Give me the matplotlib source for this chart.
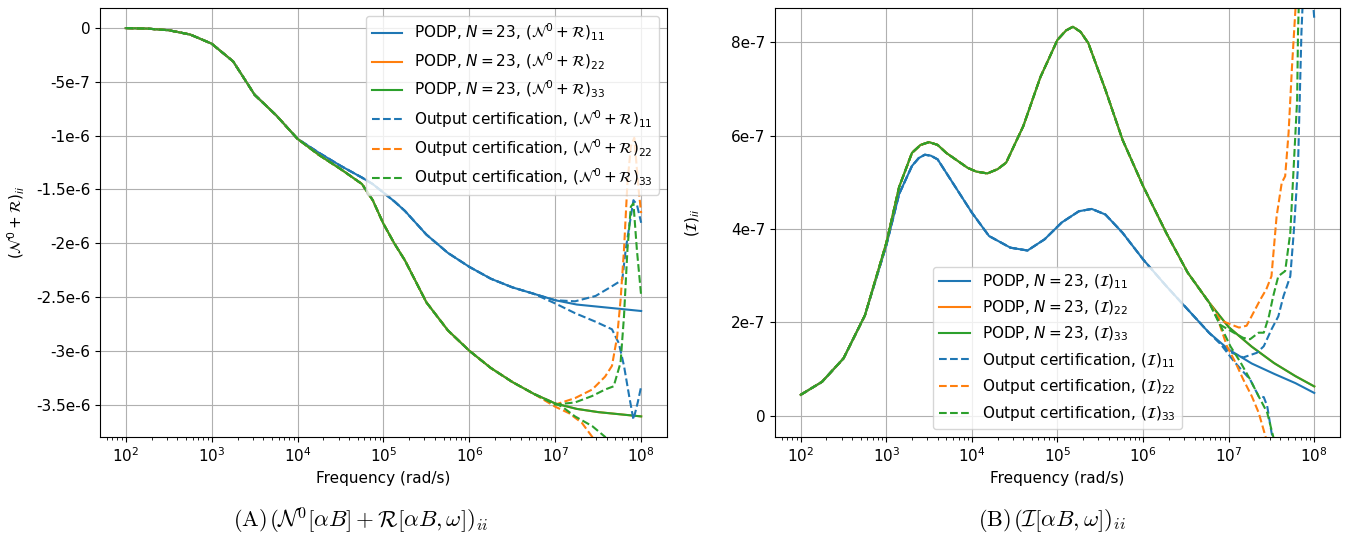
import numpy as np
import matplotlib
matplotlib.use("Agg")
import matplotlib.pyplot as plt
from matplotlib.ticker import FuncFormatter, MultipleLocator, NullFormatter

plt.rcParams["font.size"] = 11

# ---------------- data (log10 of frequency) ----------------
# (A) tensor coefficients, units of 1e-6
lgA = [2.0, 2.25, 2.5, 2.75, 3.0, 3.25, 3.5, 3.75, 4.0, 4.25, 4.5, 4.75, 4.875, 5.0,
       5.125, 5.25, 5.5, 5.75, 6.0, 6.25, 6.5, 6.75, 7.0, 7.25, 7.5, 7.75, 8.0]
A11 = [0, -0.005, -0.02, -0.06, -0.145, -0.31, -0.62, -0.81, -1.03, -1.16, -1.28, -1.39,
       -1.45, -1.53, -1.61, -1.70, -1.92, -2.09, -2.22, -2.33, -2.41, -2.47, -2.53, -2.57,
       -2.59, -2.61, -2.63]
A22 = [0, -0.005, -0.02, -0.06, -0.145, -0.31, -0.62, -0.81, -1.03, -1.18, -1.31, -1.45,
       -1.60, -1.82, -2.00, -2.16, -2.55, -2.81, -3.00, -3.16, -3.29, -3.40, -3.49, -3.54,
       -3.57, -3.59, -3.61]
A33 = A22

# output certification bounds (tails after they leave the PODP curve)
lgA11_up = [7.0, 7.23, 7.47, 7.66, 7.78, 7.82, 7.86, 7.91, 7.95, 8.0]
A11_up = [-2.53, -2.54, -2.49, -2.40, -2.34, -2.06, -1.85, -1.60, -1.64, -1.81]
lgA11_lo = [7.0, 7.23, 7.47, 7.66, 7.74, 7.80, 7.86, 7.91, 7.96, 8.0]
A11_lo = [-2.56, -2.65, -2.73, -2.80, -2.93, -3.14, -3.42, -3.64, -3.48, -3.33]
lgA22_up = [7.0, 7.23, 7.43, 7.58, 7.66, 7.72, 7.76, 7.80, 7.84, 7.88, 7.92, 7.97, 8.0]
A22_up = [-3.50, -3.44, -3.36, -3.24, -3.14, -2.87, -2.53, -2.06, -1.44, -1.10, -1.02, -1.50, -1.72]
lgA22_lo = [7.0, 7.16, 7.31, 7.43, 7.55]
A22_lo = [-3.52, -3.58, -3.67, -3.80, -3.98]
lgA33_up = [7.0, 7.23, 7.43, 7.58, 7.68, 7.76, 7.80, 7.84, 7.88, 7.91, 7.95, 8.0]
A33_up = [-3.50, -3.48, -3.42, -3.36, -3.33, -3.11, -2.68, -2.06, -1.66, -1.63, -2.06, -2.49]
lgA33_lo = [7.08, 7.23, 7.43, 7.58, 7.70]
A33_lo = [-3.52, -3.61, -3.70, -3.80, -3.98]

# (B) imaginary part, units of 1e-7
lgB11 = [2.0, 2.25, 2.5, 2.75, 3.0, 3.15, 3.3, 3.38, 3.45, 3.52, 3.6, 3.8, 4.0, 4.2, 4.45,
         4.65, 4.85, 5.05, 5.25, 5.4, 5.56, 5.76, 6.0, 6.27, 6.52, 6.77, 7.0, 7.27, 7.53,
         7.78, 8.0]
B11 = [0.45, 0.73, 1.23, 2.15, 3.65, 4.75, 5.35, 5.52, 5.59, 5.57, 5.49, 4.92, 4.35, 3.85,
       3.60, 3.54, 3.78, 4.14, 4.38, 4.43, 4.31, 3.92, 3.35, 2.78, 2.28, 1.78, 1.42, 1.12,
       0.90, 0.70, 0.49]
lgB22 = [2.0, 2.25, 2.5, 2.75, 3.0, 3.15, 3.3, 3.4, 3.5, 3.6, 3.7, 3.95, 4.05, 4.18, 4.3,
         4.4, 4.6, 4.8, 5.0, 5.1, 5.18, 5.27, 5.36, 5.56, 5.76, 6.0, 6.27, 6.52, 6.77, 7.0,
         7.27, 7.53, 7.78, 8.0]
B22 = [0.45, 0.73, 1.23, 2.15, 3.70, 4.90, 5.63, 5.80, 5.86, 5.80, 5.63, 5.31, 5.23, 5.19,
       5.28, 5.42, 6.20, 7.25, 8.05, 8.25, 8.33, 8.22, 7.98, 6.98, 5.91, 4.92, 3.92, 3.07,
       2.43, 1.90, 1.48, 1.13, 0.85, 0.63]
lgB33 = lgB22
B33 = B22

lgB11_up = [6.90, 7.0, 7.17, 7.33, 7.41, 7.50, 7.58, 7.64, 7.72, 7.76, 7.81, 7.83, 7.85,
            7.88, 7.96, 8.0]
B11_up = [1.55, 1.38, 1.25, 1.35, 1.49, 1.85, 2.13, 2.56, 2.99, 3.92, 5.34, 6.77, 8.2,
          9.5, 9.5, 8.5]
lgB11_lo = [6.90, 7.06, 7.25, 7.35, 7.41, 7.45, 7.50, 7.55]
B11_lo = [1.55, 1.17, 0.78, 0.42, 0.40, 0.21, -0.35, -0.8]
lgB22_up = [6.90, 7.02, 7.12, 7.21, 7.29, 7.37, 7.44, 7.50, 7.56, 7.62, 7.66, 7.70, 7.74,
            7.78, 7.81]
B22_up = [2.05, 1.96, 1.89, 1.93, 2.21, 2.49, 2.71, 2.99, 4.27, 4.99, 5.13, 6.06, 7.48,
          8.7, 9.5]
lgB22_lo = [6.85, 6.98, 7.08, 7.17, 7.27, 7.35, 7.43, 7.48]
B22_lo = [2.2, 1.49, 1.14, 0.78, 0.42, 0.07, -0.44, -0.8]
lgB33_up = [6.90, 7.06, 7.17, 7.25, 7.35, 7.41, 7.47, 7.52, 7.58, 7.66, 7.72, 7.76, 7.80,
            7.81, 7.83]
B33_up = [1.95, 1.78, 1.67, 1.64, 1.78, 1.78, 2.13, 2.56, 2.99, 3.10, 3.92, 5.34, 6.77,
          8.2, 9.5]
lgB33_lo = [6.90, 7.02, 7.14, 7.25, 7.35, 7.45, 7.52, 7.56]
B33_lo = [1.95, 1.49, 1.14, 0.78, 0.42, 0.07, -0.44, -0.8]

decades = [2, 3, 4, 5, 6, 7, 8]


def join(lg_s, v_s, lg_t, v_t):
    """PODP curve up to where the certification bound leaves it, then the bound."""
    keep = [i for i, l in enumerate(lg_s) if l < lg_t[0]]
    lg = [lg_s[i] for i in keep] + list(lg_t)
    v = [v_s[i] for i in keep] + list(v_t)
    return 10 ** np.array(lg), np.array(v)


def sci_fmt(v, pos):
    if abs(v) < 1e-15:
        return "0"
    s = f"{v:g}"
    return s.replace("e-0", "e-").replace("e+0", "e")


colors = ["C0", "C1", "C2"]

fig = plt.figure(figsize=(13.46, 5.38), dpi=100)
ax1 = fig.add_axes([0.0743, 0.188, 0.4212, 0.797])
ax2 = fig.add_axes([0.5758, 0.188, 0.4197, 0.797])

# ---------------- (A) ----------------
ten = r"(\mathcal{N}^0+\mathcal{R})"
solidA = [(lgA, A11), (lgA, A22), (lgA, A33)]
for i, (lg, v) in enumerate(solidA):
    ax1.plot(10 ** np.array(lg), np.array(v) * 1e-6, color=colors[i],
             label=rf"PODP, $N=23$, ${ten}_{{{i+1}{i+1}}}$")
tailsA = [(lgA11_up, A11_up, lgA11_lo, A11_lo),
          (lgA22_up, A22_up, lgA22_lo, A22_lo),
          (lgA33_up, A33_up, lgA33_lo, A33_lo)]
for i, (lu, vu, ll, vl) in enumerate(tailsA):
    f, v = join(solidA[i][0], solidA[i][1], lu, vu)
    ax1.plot(f, v * 1e-6, "--", color=colors[i],
             label=rf"Output certification, ${ten}_{{{i+1}{i+1}}}$")
    f, v = join(solidA[i][0], solidA[i][1], ll, vl)
    ax1.plot(f, v * 1e-6, "--", color=colors[i])

ax1.set_xscale("log")
ax1.set_xlim(10 ** 1.7, 10 ** 8.3)
ax1.set_ylim(-3.8e-6, 0.186e-6)
ax1.set_xticks([10.0 ** d for d in decades], [rf"$10^{{{d}}}$" for d in decades])
ax1.xaxis.set_minor_formatter(NullFormatter())
ax1.yaxis.set_major_locator(MultipleLocator(5e-7))
ax1.yaxis.set_major_formatter(FuncFormatter(sci_fmt))
ax1.set_xlabel("Frequency (rad/s)")
ax1.set_ylabel(rf"${ten}_{{ii}}$")
ax1.yaxis.set_label_coords(-0.129, 0.5)
ax1.grid(True)
ax1.legend(loc="upper right")

# ---------------- (B) ----------------
solidB = [(lgB11, B11), (lgB22, B22), (lgB33, B33)]
for i, (lg, v) in enumerate(solidB):
    ax2.plot(10 ** np.array(lg), np.array(v) * 1e-7, color=colors[i],
             label=rf"PODP, $N=23$, $(\mathcal{{I}})_{{{i+1}{i+1}}}$")
tailsB = [(lgB11_up, B11_up, lgB11_lo, B11_lo),
          (lgB22_up, B22_up, lgB22_lo, B22_lo),
          (lgB33_up, B33_up, lgB33_lo, B33_lo)]
for i, (lu, vu, ll, vl) in enumerate(tailsB):
    f, v = join(solidB[i][0], solidB[i][1], lu, vu)
    ax2.plot(f, v * 1e-7, "--", color=colors[i],
             label=rf"Output certification, $(\mathcal{{I}})_{{{i+1}{i+1}}}$")
    f, v = join(solidB[i][0], solidB[i][1], ll, vl)
    ax2.plot(f, v * 1e-7, "--", color=colors[i])

ax2.set_xscale("log")
ax2.set_xlim(10 ** 1.7, 10 ** 8.3)
ax2.set_ylim(-0.45e-7, 8.73e-7)
ax2.set_xticks([10.0 ** d for d in decades], [rf"$10^{{{d}}}$" for d in decades])
ax2.xaxis.set_minor_formatter(NullFormatter())
ax2.yaxis.set_major_locator(MultipleLocator(2e-7))
ax2.yaxis.set_major_formatter(FuncFormatter(sci_fmt))
ax2.set_xlabel("Frequency (rad/s)")
ax2.set_ylabel(r"$(\mathcal{I})_{ii}$")
ax2.yaxis.set_label_coords(-0.129, 0.5)
ax2.grid(True)
ax2.legend(loc="lower center")

# ---------------- captions ----------------
fig.text(233 / 1346, 1 - 521 / 538, r"$\mathrm{(A)}$", fontsize=16,
         math_fontfamily="cm", ha="left", va="center")
fig.text(269 / 1346, 1 - 521 / 538,
         r"$(\mathcal{N}^0[\alpha B]+\mathcal{R}[\alpha B,\omega])_{ii}$",
         fontsize=16.5, math_fontfamily="cm", ha="left", va="center")
fig.text(978 / 1346, 1 - 521 / 538, r"$\mathrm{(B)}$", fontsize=16,
         math_fontfamily="cm", ha="left", va="center")
fig.text(1013 / 1346, 1 - 521 / 538, r"$(\mathcal{I}[\alpha B,\omega])_{ii}$",
         fontsize=16.5, math_fontfamily="cm", ha="left", va="center")

fig.savefig("out.png", dpi=100)
